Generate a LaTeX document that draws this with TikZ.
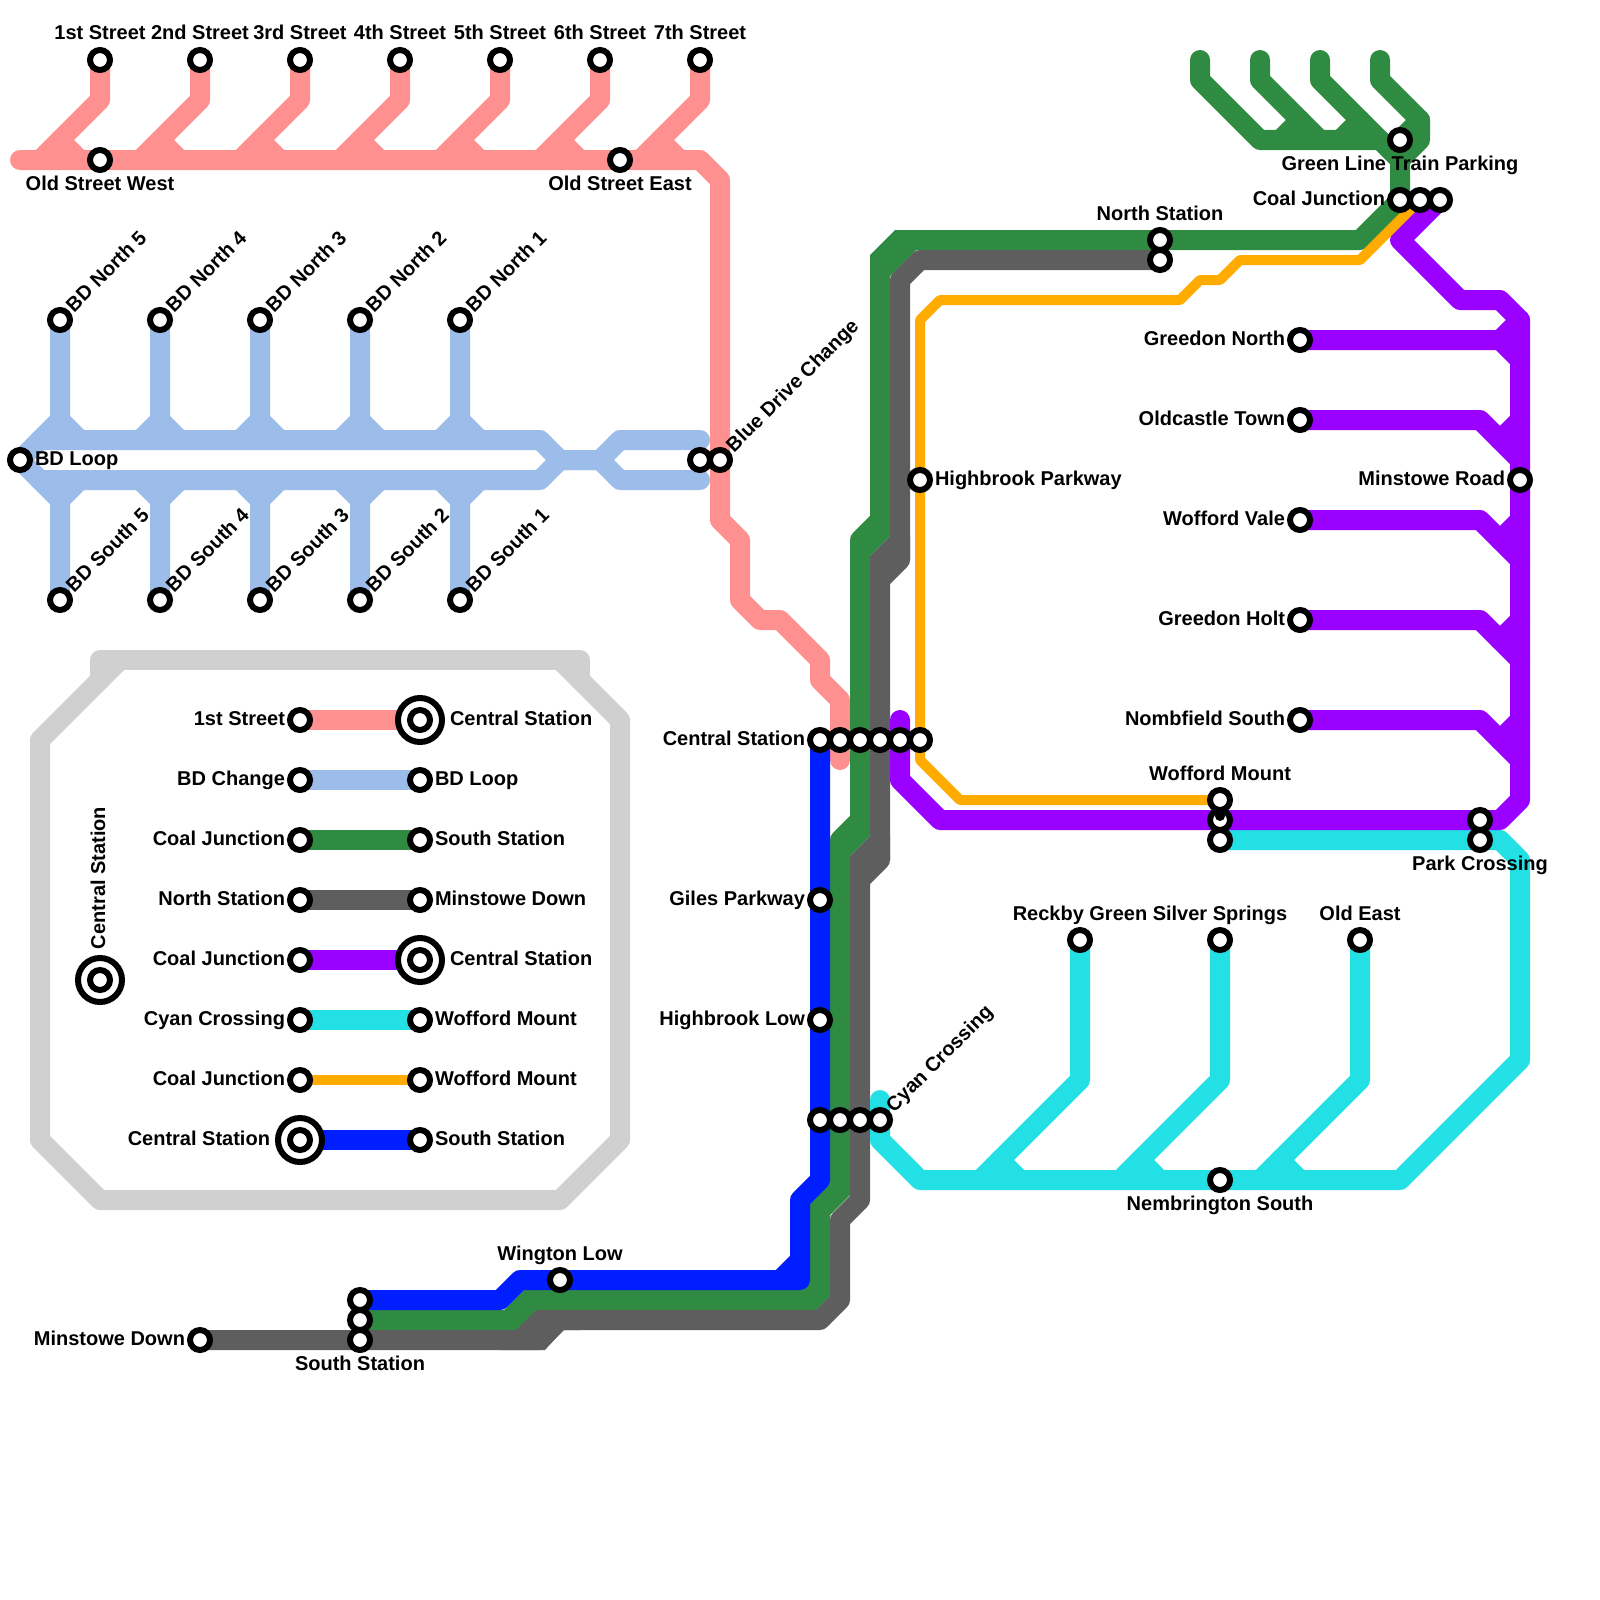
\documentclass[tikz,border=0pt]{standalone}
\usepackage{fontspec}
\setmainfont{Liberation Sans}
\usetikzlibrary{backgrounds}
\definecolor{linepink}{HTML}{FF9090}
\definecolor{linesky}{HTML}{9CBCEA}
\definecolor{linegreen}{HTML}{2E8B41}
\definecolor{linegray}{HTML}{5E5E5E}
\definecolor{linepurple}{HTML}{9900FF}
\definecolor{linecyan}{HTML}{22E0E3}
\definecolor{lineorange}{HTML}{FFAB00}
\definecolor{lineblue}{HTML}{001EFF}
\definecolor{framegray}{HTML}{D0D0D0}
\begin{document}
\begin{tikzpicture}[
    x=1pt, y=-1pt,
    stn/.style={circle, draw=black, fill=white, line width=6pt, inner sep=0pt,
                outer sep=0pt, minimum size=20pt},
    stnbig/.style={stn, minimum size=44pt},
    lbl/.style={font=\fontsize{20}{24}\selectfont\bfseries, inner sep=0pt, outer sep=0pt},
    lblabove/.style={lbl, anchor=base, yshift=20pt},
    lblbelow/.style={lbl, anchor=base, yshift=-30pt},
    lblleft/.style={lbl, anchor=base east, xshift=-15pt, yshift=-5pt},
    lblright/.style={lbl, anchor=base west, xshift=15pt, yshift=-5pt},
    lblrot/.style={lbl, anchor=base west, xshift=14pt, yshift=7pt, rotate=45},
    ln/.style={line width=20pt, line cap=round, line join=round},
    pinkln/.style={ln, linepink},
    skyln/.style={ln, linesky},
    greenln/.style={ln, linegreen},
    grayln/.style={ln, linegray},
    purpleln/.style={ln, linepurple},
    cyanln/.style={ln, linecyan},
    blueln/.style={ln, lineblue},
    orangeln/.style={ln, line width=10pt, lineorange},
    frameln/.style={ln, framegray}
  ]
  \useasboundingbox (0,0) rectangle (1600,1600);

  % Street branches and the top row
  \foreach \n/\x/\t in {sA/100/1st Street, sB/200/2nd Street, sC/300/3rd Street, sD/400/4th Street,
                        sE/500/5th Street, sF/600/6th Street, sG/700/7th Street} {
    \node[stn] (\n) at (\x,60) {};
    \node[lblabove] (\n t) at (\n) {\t};
  }
  \node[stn] (oldW) at (100,160) {};
  \node[lblbelow] (oldWt) at (oldW) {Old Street West};
  \node[stn] (oldE) at (620,160) {};
  \node[lblbelow] (oldEt) at (oldE) {Old Street East};

  % BD stations
  \foreach \n/\x/\k in {bdNe/60/5, bdNd/160/4, bdNc/260/3, bdNb/360/2, bdNa/460/1} {
    \node[stn] (\n) at (\x,320) {};
    \node[lblrot] (\n t) at (\n) {BD North \k};
  }
  \foreach \n/\x/\k in {bdSe/60/5, bdSd/160/4, bdSc/260/3, bdSb/360/2, bdSa/460/1} {
    \node[stn] (\n) at (\x,600) {};
    \node[lblrot] (\n t) at (\n) {BD South \k};
  }
  \node[stn] (bdLoop) at (20,460) {};
  \node[lblright] (bdLoopt) at (bdLoop) {BD Loop};
  \node[stn] (bdChange) at (700,460) {};
  \node[stn] (bdDrive) at (720,460) {};
  \node[lblrot] (bdDrivet) at (bdDrive) {Blue Drive Change};

  % Central Station row and the row below it
  \foreach \n/\x in {cBlue/820, cPink/840, cGreen/860, cGray/880, cPurple/900, cOrange/920} {
    \node[stn] (\n) at (\x,740) {};
  }
  \node[lblleft] (cBluet) at (cBlue) {Central Station};
  \foreach \n/\x in {xBlue/820, xGreen/840, xGray/860, xCyan/880} {
    \node[stn] (\n) at (\x,1120) {};
  }
  \node[lblrot] (xCyant) at (xCyan) {Cyan Crossing};
  \node[stn] (giles) at (820,900) {};
  \node[lblleft] (gilest) at (giles) {Giles Parkway};
  \node[stn] (hbLow) at (820,1020) {};
  \node[lblleft] (hbLowt) at (hbLow) {Highbrook Low};
  \node[stn] (hbPark) at (920,480) {};
  \node[lblright] (hbParkt) at (hbPark) {Highbrook Parkway};

  % South end
  \node[stn] (wington) at (560,1280) {};
  \node[lblabove] (wingtont) at (wington) {Wington Low};
  \node[stn] (minDown) at (200,1340) {};
  \node[lblleft] (minDownt) at (minDown) {Minstowe Down};
  \node[stn] (soBlue) at (360,1300) {};
  \node[stn] (soGreen) at (360,1320) {};
  \node[stn] (soGray) at (360,1340) {};
  \node[lblbelow] (soGrayt) at (soGray) {South Station};

  % North end
  \node[stn] (parking) at (1400,140) {};
  \node[lblbelow] (parkingt) at (parking) {Green Line Train Parking};
  \node[stn] (coalG) at (1400,200) {};
  \node[lblleft] (coalGt) at (coalG) {Coal Junction};
  \node[stn] (coalO) at (1420,200) {};
  \node[stn] (coalP) at (1440,200) {};
  \node[stn] (norG) at (1160,240) {};
  \node[lblabove] (norGt) at (norG) {North Station};
  \node[stn] (norK) at (1160,260) {};

  % Purple termini
  \foreach \n/\y/\t in {pA/340/Greedon North, pB/420/Oldcastle Town, pC/520/Wofford Vale,
                        pD/620/Greedon Holt, pE/720/Nombfield South} {
    \node[stn] (\n) at (1300,\y) {};
    \node[lblleft] (\n t) at (\n) {\t};
  }
  \node[stn] (minRoad) at (1520,480) {};
  \node[lblleft] (minRoadt) at (minRoad) {Minstowe Road};

  % Wofford Mount and Park Crossing
  \node[stn] (wofO) at (1220,800) {};
  \node[lblabove] (wofOt) at (wofO) {Wofford Mount};
  \node[stn] (wofP) at (1220,820) {};
  \fill[black] (1220,816) circle[radius=5pt];
  \node[stn] (wofC) at (1220,840) {};
  \node[stn] (parkP) at (1480,820) {};
  \node[stn] (parkC) at (1480,840) {};
  \node[lblbelow] (parkCt) at (parkC) {Park Crossing};

  % Cyan termini
  \foreach \n/\x/\t in {cyA/1080/Reckby Green, cyB/1220/Silver Springs, cyC/1360/Old East} {
    \node[stn] (\n) at (\x,940) {};
    \node[lblabove] (\n t) at (\n) {\t};
  }
  \node[stn] (nemb) at (1220,1180) {};
  \node[lblbelow] (nembt) at (nemb) {Nembrington South};

  % Legend
  \node[stnbig] (bigKey) at (100,980) {};
  \node[stnbig] (bigPink) at (420,720) {};
  \node[stnbig] (bigPurple) at (420,960) {};
  \node[stnbig] (bigBlue) at (300,1140) {};
  \node[stn] (key) at (100,980) {};
  \node[lbl, anchor=base west, xshift=5pt, yshift=31pt, rotate=90] (keyt) at (key) {Central Station};
  \foreach \y/\cl/\ta/\tb/\da/\db in {720/pinkln/1st Street/Central Station/0/15,
      780/skyln/BD Change/BD Loop/0/0, 840/greenln/Coal Junction/South Station/0/0,
      900/grayln/North Station/Minstowe Down/0/0, 960/purpleln/Coal Junction/Central Station/0/15,
      1020/cyanln/Cyan Crossing/Wofford Mount/0/0, 1080/orangeln/Coal Junction/Wofford Mount/0/0,
      1140/blueln/Central Station/South Station/15/0} {
    \node[stn] (la\y) at (300,\y) {};
    \node[stn] (lb\y) at (420,\y) {};
    \node[lblleft, xshift=-\da pt] (la\y t) at (la\y) {\ta};
    \node[lblright, xshift=\db pt] (lb\y t) at (lb\y) {\tb};
    \begin{scope}[on background layer]
      \draw[\cl, line cap=butt] (la\y.center) -- (lb\y.center);
    \end{scope}
  }

  \begin{scope}[on background layer]
    % Legend frame
    \draw[frameln] (120,660) -- (40,740) -- (40,1140) -- (100,1200) -- (560,1200) -- (620,1140)
      -- (620,720) -- (560,660);
    \draw[frameln] (100,680) -- (100,660) -- (580,660) -- (580,680);

    % Pink line
    \draw[pinkln] (20,160) -- (700,160) -- (720,180) -- (720,520) -- (740,540) -- (740,600)
      -- (760,620) -- (780,620) -- (820,660) -- (820,680) -- (840,700) -- (840,760);
    \foreach \n/\x in {sA/100, sB/200, sC/300, sD/400, sE/500, sF/600, sG/700} {
      \draw[pinkln] (\n.center) -- (\x,100) -- (\x-60,160);
      \draw[pinkln] (\x-40,140) -- (\x-20,160);
    }

    % BD lines
    \draw[skyln] (bdLoop.center) -- (40,440) -- (540,440) -- (560,460) -- (600,460)
      -- (620,440) -- (700,440);
    \draw[skyln] (bdLoop.center) -- (40,480) -- (540,480) -- (560,460) -- (600,460)
      -- (620,480) -- (700,480);
    \foreach \n/\x in {bdNe/60, bdNd/160, bdNc/260, bdNb/360, bdNa/460} {
      \draw[skyln] (\n.center) -- (\x,420) -- (\x-20,440);
      \draw[skyln] (\x,420) -- (\x+20,440);
    }
    \foreach \n/\x in {bdSe/60, bdSd/160, bdSc/260, bdSb/360, bdSa/460} {
      \draw[skyln] (\n.center) -- (\x,500) -- (\x-20,480);
      \draw[skyln] (\x,500) -- (\x+20,480);
    }

    % Green line, the fills close the bends of the bundle
    \draw[greenln] (coalG.center) -- (1360,240) -- (900,240) -- (880,260) -- (880,520)
      -- (860,540) -- (860,820) -- (840,840) -- (840,1180) -- (820,1200) -- (820,1290)
      -- (810,1300) -- (540,1300) -- (520,1320) -- (soGreen.center);
    \fill[linegreen] (870,290) -- (870,255) -- (895,230) -- (930,230) -- (930,250) -- (916,250)
      -- (890,276) -- (890,290) -- cycle;
    \fill[linegreen] (870,520) -- (890,520) -- (890,536) -- (870,556) -- (870,570) -- (850,570)
      -- (850,540) -- cycle;
    \fill[linegreen] (850,820) -- (870,820) -- (870,836) -- (850,856) -- (850,870) -- (830,870)
      -- (830,840) -- cycle;
    \fill[linegreen] (830,1180) -- (850,1180) -- (850,1195) -- (830,1215) -- (830,1230)
      -- (810,1230) -- (810,1200) -- cycle;
    \fill[linegreen] (810,1280) -- (830,1280) -- (830,1296) -- (816,1310) -- (790,1310)
      -- (790,1290) -- cycle;
    \fill[linegreen] (524,1290) -- (560,1290) -- (560,1310) -- (536,1310) -- (516,1330)
      -- (480,1330) -- (480,1310) -- (504,1310) -- cycle;
    \draw[greenln] (coalG.center) -- (1400,160) -- (1380,140) -- (1260,140) -- (1200,80) -- (1200,60);
    \foreach \x in {1260, 1320} {
      \draw[greenln] (\x,60) -- (\x,80) -- (\x+60,140);
      \draw[greenln] (\x+40,120) -- (\x+20,140);
    }
    \draw[greenln] (1380,60) -- (1380,80) -- (1420,120) -- (1420,140) -- (1400,160);
    \draw[greenln] (1420,120) -- (1400,140);

    % Gray line
    \draw[grayln] (norK.center) -- (920,260) -- (900,280) -- (900,560) -- (880,580) -- (880,860)
      -- (860,880) -- (860,1200) -- (840,1220) -- (840,1300) -- (820,1320) -- (560,1320)
      -- (540,1340) -- (minDown.center);
    \fill[linegray] (890,536) -- (910,536) -- (910,560) -- (890,580) -- (870,580) -- (870,556) -- cycle;
    \fill[linegray] (870,836) -- (890,836) -- (890,860) -- (870,880) -- (850,880) -- (850,856) -- cycle;
    \fill[linegray] (536,1310) -- (580,1310) -- (580,1330) -- (563,1330) -- (545,1350) -- (500,1350)
      -- (500,1330) -- (516,1330) -- cycle;

    % Blue line
    \draw[blueln] (soBlue.center) -- (500,1300) -- (520,1280) -- (800,1280) -- (800,1200)
      -- (820,1180) -- (cBlue.center);
    \draw[blueln] (780,1280) -- (800,1260);

    % Cyan line
    \draw[cyanln] (wofC.center) -- (1500,840) -- (1520,860) -- (1520,1060) -- (1400,1180)
      -- (920,1180) -- (880,1140) -- (880,1100);
    \foreach \n/\x in {cyA/1080, cyB/1220, cyC/1360} {
      \draw[cyanln] (\n.center) -- (\x,1080) -- (\x-100,1180);
      \draw[cyanln] (\x-80,1160) -- (\x-60,1180);
    }

    % Purple line
    \draw[purpleln] (coalP.center) -- (1400,240) -- (1460,300) -- (1500,300) -- (1520,320)
      -- (1520,800) -- (1500,820) -- (940,820) -- (900,780) -- (900,720);
    \draw[purpleln] (pA.center) -- (1500,340) -- (1520,360);
    \draw[purpleln] (1500,340) -- (1520,320);
    \foreach \n/\y in {pB/420, pC/520, pD/620, pE/720} {
      \draw[purpleln] (\n.center) -- (1480,\y) -- (1520,\y+40);
      \draw[purpleln] (1500,\y+20) -- (1520,\y);
    }

    % Orange line
    \draw[orangeln] (coalO.center) -- (1360,260) -- (1240,260) -- (1220,280) -- (1200,280)
      -- (1180,300) -- (940,300) -- (920,320) -- (920,760) -- (960,800) -- (wofO.center);
  \end{scope}
\end{tikzpicture}
\end{document}
